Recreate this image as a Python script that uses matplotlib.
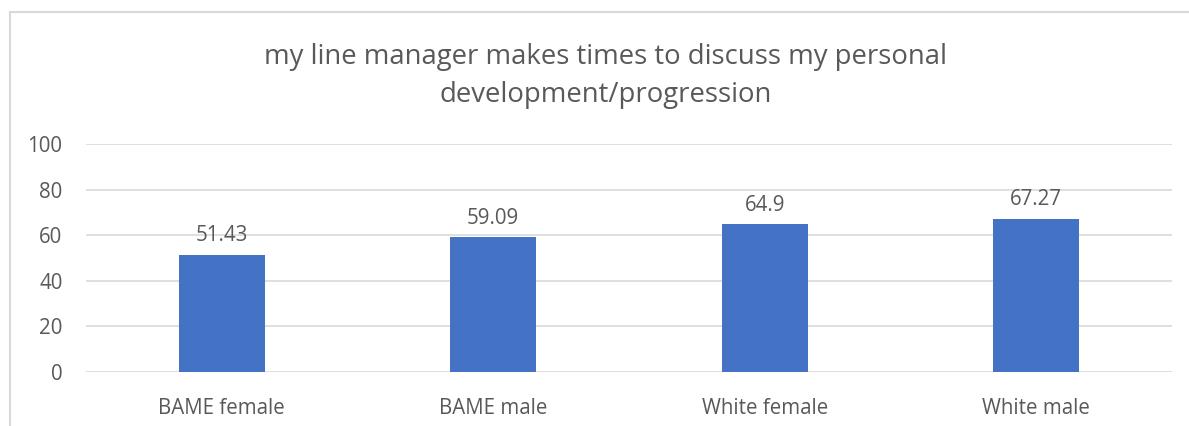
import matplotlib.pyplot as plt
from matplotlib.patches import Rectangle

categories = ["BAME female", "BAME male", "White female", "White male"]
values = [51.43, 59.09, 64.9, 67.27]
value_labels = ["51.43", "59.09", "64.9", "67.27"]
yticks = [0, 20, 40, 60, 80, 100]

TEXT = "#595959"
GRID = "#d9d9d9"
BAR = "#4472c4"

plt.rcParams['font.family'] = ['Open Sans', 'DejaVu Sans']

fig = plt.figure(figsize=(11.89, 4.26), dpi=100)
# chart frame (only the top and left edges fall inside the image)
fig.patches.append(Rectangle((10 / 1189, -0.1), 1.2, 1 - 12 / 426 + 0.1,
                             transform=fig.transFigure, fill=False,
                             edgecolor=GRID, linewidth=1.5))

ax = fig.add_axes([86 / 1189, 1 - 372 / 426, (1172 - 86) / 1189, (372 - 144) / 426])
x = range(len(categories))
ax.bar(x, values, width=0.315, color=BAR, zorder=3)
for xi, v, lab in zip(x, values, value_labels):
    ax.annotate(lab, (xi, v), xytext=(0, 6), textcoords="offset points",
                ha="center", va="bottom", fontsize=14.8, color=TEXT)

ax.set_xlim(-0.5, len(categories) - 0.5)
ax.set_ylim(0, 100)
ax.set_yticks(yticks)
ax.set_xticks(list(x))
ax.set_xticklabels(categories)
ax.tick_params(axis="both", length=0, labelsize=14.8, labelcolor=TEXT)
ax.tick_params(axis="y", pad=17)
ax.tick_params(axis="x", pad=19)
ax.yaxis.grid(True, color=GRID, linewidth=1.2, zorder=0)
for s in ax.spines.values():
    s.set_visible(False)

fig.text(0.509, 1 - 76 / 426,
         "my line manager makes times to discuss my personal\ndevelopment/progression",
         ha="center", va="center", fontsize=19.8, color=TEXT, linespacing=1.45)

fig.savefig("out.png", dpi=100)
